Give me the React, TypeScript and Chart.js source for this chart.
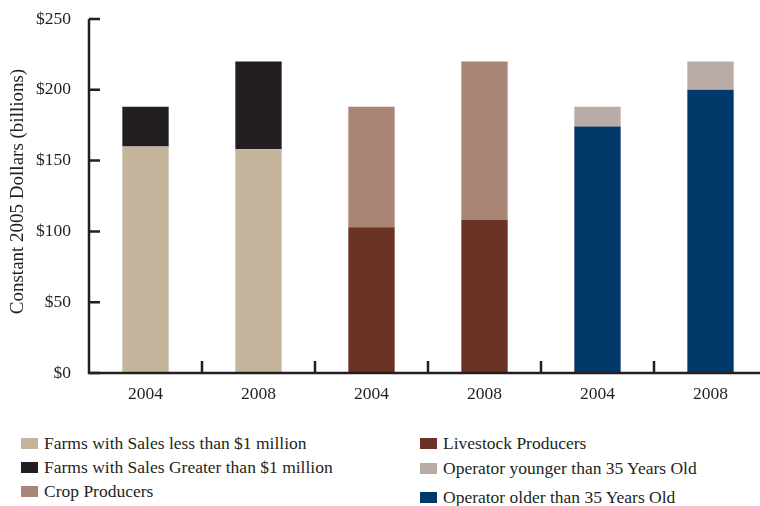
import React, { useEffect, useRef } from "react";
import { Chart, registerables } from "chart.js";

Chart.register(...registerables);

const categories = ["2004", "2008", "2004", "2008", "2004", "2008"];
const salesUnder1M = [160, 158, null, null, null, null];
const salesOver1M = [28, 62, null, null, null, null];
const livestock = [null, null, 103, 108, null, null];
const crop = [null, null, 85, 112, null, null];
const olderThan35 = [null, null, null, null, 174, 200];
const youngerThan35 = [null, null, null, null, 14, 20];
const yTicks = [0, 50, 100, 150, 200, 250];
const yTitle = "Constant 2005 Dollars (billions)";

const FONT = "'Liberation Serif', 'DejaVu Serif', serif";
const AXIS = "#231F20";

const legendLeft = [
  { label: "Farms with Sales less than $1 million", color: "#C4B49B", top: 438 },
  { label: "Farms with Sales Greater than $1 million", color: "#231F20", top: 462 },
  { label: "Crop Producers", color: "#A98576", top: 486 },
];
const legendRight = [
  { label: "Livestock Producers", color: "#6B3324", top: 438 },
  { label: "Operator younger than 35 Years Old", color: "#B9ACA7", top: 463 },
  { label: "Operator older than 35 Years Old", color: "#003869", top: 492 },
];

const CW = 780;
const CH = 410;

const axisPlugin = {
  id: "customAxes",
  afterDraw(chart: any) {
    const ctx = chart.ctx;
    const x = chart.scales.x;
    const y = chart.scales.y;
    const area = chart.chartArea;
    ctx.save();
    ctx.strokeStyle = AXIS;
    ctx.lineWidth = 2.5;
    ctx.beginPath();
    ctx.moveTo(area.left, area.top);
    ctx.lineTo(area.left, area.bottom);
    ctx.lineTo(area.right, area.bottom);
    ctx.stroke();
    ctx.beginPath();
    yTicks.forEach((v) => {
      const py = y.getPixelForValue(v);
      ctx.moveTo(area.left, py);
      ctx.lineTo(area.left + 11, py);
    });
    for (let i = 1; i < categories.length; i++) {
      const px = (x.getPixelForValue(i - 1) + x.getPixelForValue(i)) / 2;
      ctx.moveTo(px, area.bottom);
      ctx.lineTo(px, area.bottom - 12);
    }
    ctx.stroke();
    // y-axis title
    ctx.translate(18, 191.5);
    ctx.rotate(-Math.PI / 2);
    ctx.fillStyle = AXIS;
    ctx.font = "19px " + FONT;
    ctx.textAlign = "center";
    ctx.textBaseline = "middle";
    ctx.fillText(yTitle, 0, 0);
    ctx.restore();
  },
};

export default function App() {
  const ref = useRef<HTMLCanvasElement>(null);
  useEffect(() => {
    if (!ref.current) return;
    const mk = (label: string, data: (number | null)[], color: string) => ({
      label,
      data,
      backgroundColor: color,
      borderWidth: 0,
      barPercentage: 0.41,
      categoryPercentage: 1,
      stack: "s",
    });
    const chart = new Chart(ref.current, {
      type: "bar",
      data: {
        labels: categories,
        datasets: [
          mk("Farms with Sales less than $1 million", salesUnder1M, "#C4B49B"),
          mk("Farms with Sales Greater than $1 million", salesOver1M, "#231F20"),
          mk("Livestock Producers", livestock, "#6B3324"),
          mk("Crop Producers", crop, "#A98576"),
          mk("Operator older than 35 Years Old", olderThan35, "#003869"),
          mk("Operator younger than 35 Years Old", youngerThan35, "#B9ACA7"),
        ] as any,
      },
      options: {
        animation: false,
        responsive: false,
        maintainAspectRatio: false,
        layout: { padding: { top: 19, right: CW - 767, left: 0, bottom: 0 } },
        plugins: { legend: { display: false }, tooltip: { enabled: false } },
        scales: {
          x: {
            stacked: true,
            grid: { display: false, drawTicks: false },
            border: { display: false },
            ticks: { color: "#231F20", font: { family: FONT, size: 17.5 }, padding: 11 },
            afterFit: (s: any) => {
              s.height = CH - 373;
              s.paddingLeft = 0;
              s.paddingRight = 0;
            },
          },
          y: {
            stacked: true,
            min: 0,
            max: 250,
            afterBuildTicks: (s: any) => {
              s.ticks = yTicks.map((v) => ({ value: v }));
            },
            grid: { display: false, drawTicks: false },
            border: { display: false },
            ticks: {
              color: "#231F20",
              font: { family: FONT, size: 17.5 },
              padding: 18,
              callback: (v: any) => "$" + v,
            },
            afterFit: (s: any) => {
              s.width = 89;
              s.paddingTop = 0;
              s.paddingBottom = 0;
            },
          },
        },
      },
      plugins: [axisPlugin],
    });
    return () => chart.destroy();
  }, []);

  const item = (it: any, left: number) => (
    <div
      key={it.label}
      style={{ position: "absolute", left, top: it.top - 5, height: 20, display: "flex", alignItems: "center" }}
    >
      <div style={{ width: 17, height: 11, background: it.color, marginRight: 6 }} />
      <span style={{ fontFamily: FONT, fontSize: 17.5, color: "#231F20", whiteSpace: "nowrap", lineHeight: "20px" }}>
        {it.label}
      </span>
    </div>
  );

  return (
    <div style={{ position: "fixed", left: 0, top: 0, width: 760, height: 506, overflow: "hidden", background: "#fff" }}>
      <canvas ref={ref} width={CW} height={CH} style={{ position: "absolute", left: 0, top: 0, width: CW, height: CH }} />
      {legendLeft.map((it) => item(it, 21))}
      {legendRight.map((it) => item(it, 420))}
    </div>
  );
}
